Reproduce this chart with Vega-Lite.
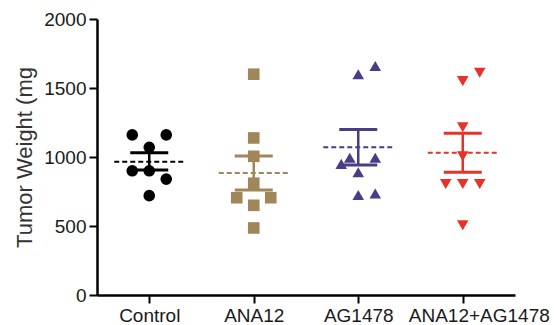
{
  "$schema": "https://vega.github.io/schema/vega-lite/v6.json",
  "width": 418,
  "height": 276,
  "autosize": "none",
  "padding": {"left": 97, "top": 19, "right": 39, "bottom": 30},
  "background": "white",
  "config": {
    "view": {"stroke": null},
    "font": "Liberation Sans",
    "axis": {
      "grid": false,
      "domainColor": "#000000",
      "domainWidth": 2.5,
      "tickColor": "#000000",
      "tickWidth": 2,
      "tickSize": 8,
      "labelColor": "#1a1a1a",
      "labelFontSize": 19,
      "labelFont": "Liberation Sans",
      "titleFont": "Liberation Sans",
      "titleFontWeight": "normal",
      "titleColor": "#333333"
    }
  },
  "datasets": {
    "points": [
      {"group": "Control", "weight": 1160, "slot": -1},
      {"group": "Control", "weight": 1160, "slot": 1},
      {"group": "Control", "weight": 1070, "slot": 0},
      {"group": "Control", "weight": 900, "slot": -1},
      {"group": "Control", "weight": 900, "slot": 0},
      {"group": "Control", "weight": 840, "slot": 1},
      {"group": "Control", "weight": 720, "slot": 0},
      {"group": "ANA12", "weight": 1600, "slot": 0},
      {"group": "ANA12", "weight": 1138, "slot": 0},
      {"group": "ANA12", "weight": 1005, "slot": 0},
      {"group": "ANA12", "weight": 810, "slot": 0},
      {"group": "ANA12", "weight": 705, "slot": -1},
      {"group": "ANA12", "weight": 705, "slot": 1},
      {"group": "ANA12", "weight": 650, "slot": 0},
      {"group": "ANA12", "weight": 486, "slot": 0},
      {"group": "AG1478", "weight": 1600, "slot": 0},
      {"group": "AG1478", "weight": 1660, "slot": 1},
      {"group": "AG1478", "weight": 950, "slot": -1},
      {"group": "AG1478", "weight": 995, "slot": -0.5},
      {"group": "AG1478", "weight": 995, "slot": 1},
      {"group": "AG1478", "weight": 890, "slot": 0},
      {"group": "AG1478", "weight": 725, "slot": 0},
      {"group": "AG1478", "weight": 735, "slot": 1},
      {"group": "ANA12+AG1478", "weight": 1550, "slot": 0},
      {"group": "ANA12+AG1478", "weight": 1610, "slot": 1},
      {"group": "ANA12+AG1478", "weight": 1215, "slot": 0},
      {"group": "ANA12+AG1478", "weight": 1005, "slot": 0},
      {"group": "ANA12+AG1478", "weight": 805, "slot": -1},
      {"group": "ANA12+AG1478", "weight": 805, "slot": 0},
      {"group": "ANA12+AG1478", "weight": 805, "slot": 1},
      {"group": "ANA12+AG1478", "weight": 505, "slot": 0}
    ],
    "summary": [
      {"group": "Control", "mean": 966, "lo": 905, "hi": 1030},
      {"group": "ANA12", "mean": 884, "lo": 760, "hi": 1008},
      {"group": "AG1478", "mean": 1070, "lo": 942, "hi": 1200},
      {"group": "ANA12+AG1478", "mean": 1030, "lo": 890, "hi": 1172}
    ]
  },
  "encoding": {
    "x": {
      "field": "group",
      "type": "nominal",
      "sort": ["Control", "ANA12", "AG1478", "ANA12+AG1478"],
      "scale": {"type": "point", "padding": 0.5},
      "axis": {
        "title": null,
        "labelAngle": 0,
        "labelPadding": 3,
        "labelOffset": {
          "condition": {"test": "datum.value === 'ANA12+AG1478'", "value": 16},
          "value": 0
        }
      }
    },
    "color": {
      "field": "group",
      "type": "nominal",
      "scale": {
        "domain": ["Control", "ANA12", "AG1478", "ANA12+AG1478"],
        "range": ["#000000", "#A0875A", "#4B3C87", "#E63228"]
      },
      "legend": null
    }
  },
  "layer": [
    {
      "data": {"name": "summary"},
      "mark": {"type": "rule", "strokeWidth": 2.5, "opacity": 1},
      "encoding": {
        "y": {
          "field": "lo",
          "type": "quantitative",
          "scale": {"domain": [0, 2000]},
          "axis": {
            "values": [0, 500, 1000, 1500, 2000],
            "format": "d",
            "title": "Tumor Weight (mg",
            "titleFontSize": 22,
            "titlePadding": 7,
            "labelPadding": 3
          }
        },
        "y2": {"field": "hi"}
      }
    },
    {
      "data": {"name": "summary"},
      "mark": {"type": "tick", "size": 38, "thickness": 3, "opacity": 1},
      "encoding": {"y": {"field": "hi", "type": "quantitative"}}
    },
    {
      "data": {"name": "summary"},
      "mark": {"type": "tick", "size": 38, "thickness": 3, "opacity": 1},
      "encoding": {"y": {"field": "lo", "type": "quantitative"}}
    },
    {
      "data": {"name": "summary"},
      "mark": {"type": "rule", "strokeWidth": 2, "strokeDash": [5, 3], "xOffset": -35, "x2Offset": 35, "opacity": 1},
      "encoding": {
        "x2": {"field": "group"},
        "y": {"field": "mean", "type": "quantitative"}
      }
    },
    {
      "data": {"name": "points"},
      "mark": {"type": "point", "filled": true, "opacity": 1, "size": 135},
      "encoding": {
        "y": {"field": "weight", "type": "quantitative"},
        "xOffset": {
          "field": "slot",
          "type": "quantitative",
          "scale": {"domain": [-1, 1], "range": [-17, 17]}
        },
        "shape": {
          "field": "group",
          "type": "nominal",
          "scale": {
            "domain": ["Control", "ANA12", "AG1478", "ANA12+AG1478"],
            "range": ["circle", "square", "triangle-up", "triangle-down"]
          },
          "legend": null
        }
      }
    }
  ]
}
